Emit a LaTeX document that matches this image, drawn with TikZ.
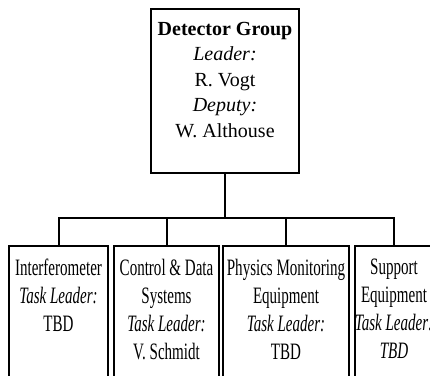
\documentclass[tikz,border=0pt]{standalone}
\usepackage{fontspec}
\setmainfont{Liberation Serif}
\newfontfamily\condfont[FakeStretch=0.64]{Liberation Serif}
\begin{document}
\begin{tikzpicture}[x=1pt,y=1pt,
  box/.style={draw=black, line width=2pt, fill=white, inner sep=0pt},
  headtext/.style={align=center, inner sep=0pt, font=\fontsize{20}{25.5}\selectfont},
  teamtext/.style={align=center, inner sep=0pt, font=\condfont\fontsize{23.5}{28}\selectfont},
  wire/.style={draw=black, line width=2pt}]
\useasboundingbox (0,0) rectangle (430,-375);
\fill[white] (0,0) rectangle (430,-375);
\clip (0,0) rectangle (430,-375);

% head of the group
\node[box, minimum width=148, minimum height=164] (head) at (225,-91) {};
\node[headtext, anchor=north] (headlbl) at ([yshift=-14]head.north)
  {\textbf{Detector Group}\\ \textit{Leader:}\\ R. Vogt\\ \textit{Deputy:}\\ W. Althouse};

% task groups
\node[box, minimum width=99,  minimum height=150] (ifo)  at (58.5,-321) {};
\node[box, minimum width=105, minimum height=150] (cds)  at (166.5,-321) {};
\node[box, minimum width=126, minimum height=150] (phys) at (286,-321) {};
\node[box, minimum width=78,  minimum height=150] (sup)  at (394,-321) {};

\node[teamtext, anchor=north] (ifolbl) at ([yshift=-14]ifo.north)
  {Interferometer\\ \textit{Task Leader:}\\ TBD};
\node[teamtext, anchor=north] (cdslbl) at ([yshift=-14]cds.north)
  {Control \& Data\\ Systems\\ \textit{Task Leader:}\\ V. Schmidt};
\node[teamtext, anchor=north] (physlbl) at ([yshift=-14]phys.north)
  {Physics Monitoring\\ Equipment\\ \textit{Task Leader:}\\ TBD};
\node[teamtext, anchor=north] (suplbl) at ([yshift=-14]sup.north)
  {Support\\ Equipment\\ \textit{Task Leader:}\\ \textit{TBD}};

% connectors
\coordinate (bus) at (head.south |- 0,-218);
\draw[wire] (head.south) -- (bus);
\draw[wire] (ifo.north) |- (bus) -| (sup.north);
\draw[wire] (cds.north) -- (cds.north |- bus);
\draw[wire] (phys.north) -- (phys.north |- bus);
\end{tikzpicture}
\end{document}
